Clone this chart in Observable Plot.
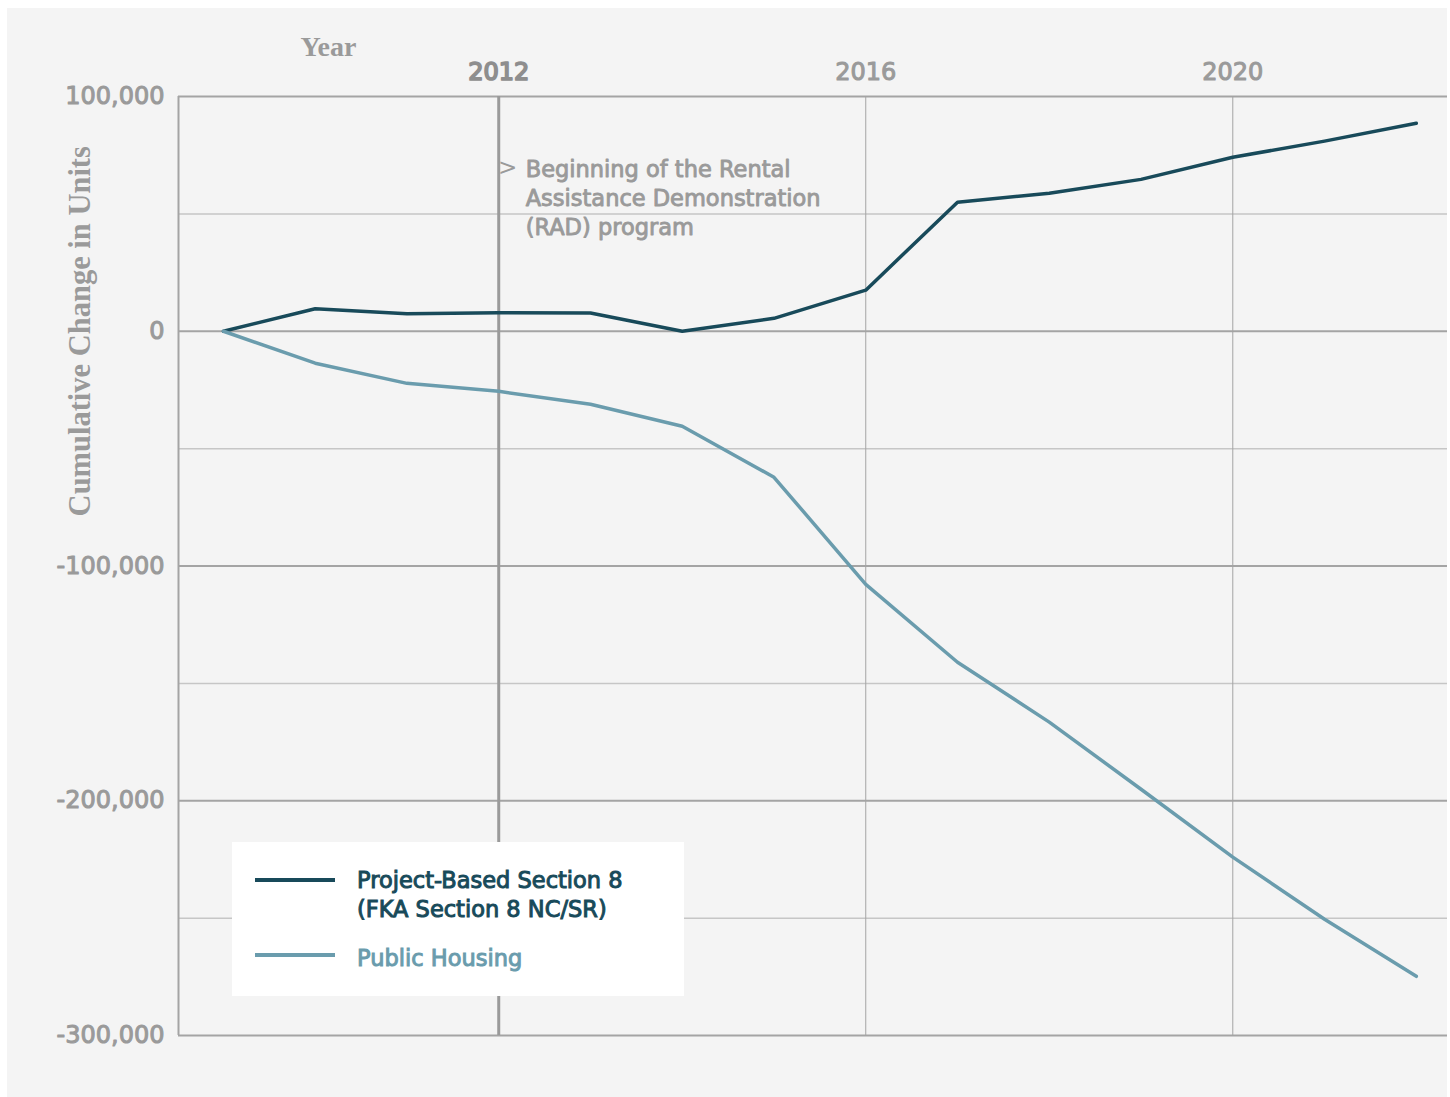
<!DOCTYPE html>
<html>
<head>
<meta charset="utf-8">
<script src="https://cdn.jsdelivr.net/npm/d3@7"></script>
<script src="https://cdn.jsdelivr.net/npm/@observablehq/plot@0.6"></script>
<style>
  html, body { margin: 0; padding: 0; background: #ffffff; }
  #wrap { position: relative; width: 1450px; height: 1097px; overflow: hidden; }
  #panel { position: absolute; left: 7px; top: 8px; width: 1440px; height: 1089px; background: #f4f4f4; }
  #chart { position: absolute; left: 0; top: 0; }
  #legend { position: absolute; left: 232px; top: 842px; width: 452px; height: 154px; background: #ffffff;
            font-family: "DejaVu Sans", sans-serif; font-weight: 400; font-size: 22.5px; }
  .sw { position: absolute; left: 23px; width: 80px; height: 4px; }
  .lt { position: absolute; left: 125px; line-height: 29px; white-space: nowrap; -webkit-text-stroke: 1px currentColor; }
</style>
</head>
<body>
<div id="wrap">
  <div id="panel"></div>
  <div id="chart"></div>
  <div id="legend"></div>
</div>
<script>
const years = [2009, 2010, 2011, 2012, 2013, 2014, 2015, 2016, 2017, 2018, 2019, 2020, 2021, 2022];
const section8 = [0, 9600, 7500, 7900, 7800, 0, 5500, 17500, 55000, 58800, 64700, 74100, 81000, 88600];
const publicHousing = [0, -13600, -22200, -25600, -31100, -40500, -62200, -107800, -141000, -166500, -195100, -224000, -250500, -274800];
const seriesNames = ["Project-Based Section 8\n(FKA Section 8 NC/SR)", "Public Housing"];
const seriesColors = ["#184a5a", "#6a9cad"];
const xTicks = [2012, 2016, 2020];
const yTicks = [-300000, -200000, -100000, 0, 100000];
const yMinor = [-250000, -150000, -50000, 50000];
const rad = { year: 2012, label: "Beginning of the Rental\nAssistance Demonstration\n(RAD) program" };

const rows = [];
years.forEach((yr, i) => {
  rows.push({ year: yr, value: section8[i], series: seriesNames[0] });
  rows.push({ year: yr, value: publicHousing[i], series: seriesNames[1] });
});

const gray = "#9a9a9a";
const sans = "'DejaVu Sans', sans-serif";
const serif = "'Liberation Serif', 'DejaVu Serif', serif";

const plot = Plot.plot({
  width: 1450,
  height: 1097,
  marginLeft: 178,
  marginRight: 3,
  marginTop: 96,
  marginBottom: 62,
  style: { background: "transparent", fontFamily: sans },
  x: { domain: [2008.51, 2022.34], axis: null },
  y: { domain: [-300000, 100000], axis: null },
  color: { domain: seriesNames, range: seriesColors },
  marks: [
    Plot.ruleY(yMinor, { stroke: "#c6c6c6", strokeWidth: 1.5 }),
    Plot.ruleY(yTicks, { stroke: "#a4a4a4", strokeWidth: 2 }),
    Plot.ruleX(xTicks.filter(d => d !== rad.year), { stroke: "#a4a4a4", strokeWidth: 1 }),
    Plot.ruleX([rad.year], { stroke: "#9a9a9a", strokeWidth: 3 }),
    Plot.ruleX([2008.51], { y1: -300000, y2: 100000, stroke: "#a4a4a4", strokeWidth: 2 }),
    Plot.text(yTicks, {
      y: d => d, frameAnchor: "left", dx: -14, textAnchor: "end", lineAnchor: "middle",
      text: d => d.toLocaleString("en-US"), fill: gray, stroke: gray, strokeWidth: 1,
      fontSize: 24, fontWeight: 400
    }),
    Plot.text(xTicks, {
      x: d => d, frameAnchor: "top", dy: -24, lineAnchor: "middle", textAnchor: "middle",
      text: d => String(d),
      fill: d => d === rad.year ? "#8e8e8e" : gray,
      stroke: d => d === rad.year ? "#8e8e8e" : gray,
      strokeWidth: d => d === rad.year ? 1.7 : 1,
      fontSize: 24, fontWeight: 400
    }),
    Plot.text(["Year"], {
      frameAnchor: "top-left", dx: 122, dy: -49, lineAnchor: "middle", textAnchor: "start",
      text: d => d, fill: gray, fontFamily: serif, fontWeight: 700, fontSize: 28
    }),
    Plot.text(["Cumulative Change in Units"], {
      y: 0, frameAnchor: "left", dx: -98, rotate: -90, textAnchor: "middle", lineAnchor: "middle",
      text: d => d, fill: gray, fontFamily: serif, fontWeight: 700, fontSize: 30.5
    }),
    Plot.text([rad], {
      x: "year", y: 69500, dx: 9, text: () => ">", fill: gray, fontSize: 23, fontWeight: 400,
      lineAnchor: "middle"
    }),
    Plot.text([rad], {
      x: "year", y: 57500, dx: 27, textAnchor: "start", lineAnchor: "middle",
      lineHeight: 29 / 22.5, text: "label", fill: gray, stroke: gray, strokeWidth: 0.9,
      fontSize: 22.5, fontWeight: 400
    }),
    Plot.line(rows, {
      x: "year", y: "value", z: "series", stroke: "series",
      strokeWidth: 3.5, strokeLinejoin: "round", strokeLinecap: "round"
    })
  ]
});
document.getElementById("chart").appendChild(plot);

const legend = document.getElementById("legend");
const swTops = [36, 111];
const txTops = [24, 102];
seriesNames.forEach((name, i) => {
  const sw = document.createElement("div");
  sw.className = "sw";
  sw.style.top = swTops[i] + "px";
  sw.style.background = seriesColors[i];
  legend.appendChild(sw);
  const t = document.createElement("div");
  t.className = "lt";
  t.style.top = txTops[i] + "px";
  t.style.color = seriesColors[i];
  t.innerHTML = name.split("\n").join("<br>");
  legend.appendChild(t);
});
</script>
</body>
</html>
